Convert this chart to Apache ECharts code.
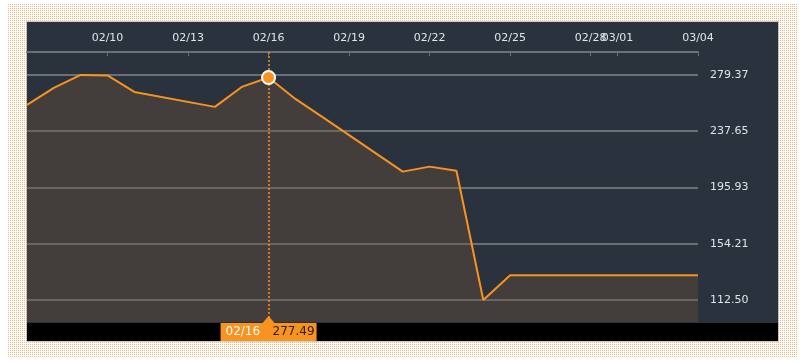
<!DOCTYPE html>
<html><head><meta charset="utf-8">
<script src="https://cdn.jsdelivr.net/npm/echarts@6/dist/echarts.min.js"></script>
<style>html,body{margin:0;padding:0;background:#fff}#c{width:800px;height:363px}</style>
</head><body><div id="c"></div>
<script>
const dates = ['2021-02-07','2021-02-08','2021-02-09','2021-02-10','2021-02-11','2021-02-14','2021-02-15','2021-02-16','2021-02-17','2021-02-18','2021-02-21','2021-02-22','2021-02-23','2021-02-24','2021-02-25','2021-03-01','2021-03-04'];
const prices = [257.2, 269.8, 279.37, 279.0, 266.8, 255.7, 270.5, 277.49, 261.6, 248.3, 207.7, 211.4, 208.4, 112.50, 130.8, 130.9, 130.9];
const xTickDates = ['2021-02-10','2021-02-13','2021-02-16','2021-02-19','2021-02-22','2021-02-25','2021-02-28','2021-03-01','2021-03-04'];
const yTicks = [112.50, 154.21, 195.93, 237.65, 279.37];
const xRange = ['2021-02-07','2021-03-04'];
const yRange = [96.2, 296.4];
const focusDate = '2021-02-16';
const focusValue = 277.49;

const t = s => { const [y,m,d] = s.split('-').map(Number); return Date.UTC(y, m-1, d); };
const pad = n => (n < 10 ? '0' : '') + n;
const fmtDate = v => { const d = new Date(v); return pad(d.getUTCMonth()+1) + '/' + pad(d.getUTCDate()); };

// dotted pattern
const pc = document.createElement('canvas'); pc.width = 2; pc.height = 2;
const pctx = pc.getContext('2d');
pctx.fillStyle = 'rgba(242,140,48,0.65)'; pctx.fillRect(0,0,1,1);

const chart = echarts.init(document.getElementById('c'), null, {renderer:'canvas'});
const FONT = 'DejaVu Sans';
const ORANGE = '#f7931e';

const bgGraphics = [
  { type:'rect', z:-30, silent:true, shape:{x:7,y:3,width:790,height:355}, style:{fill:{image:pc, repeat:'repeat'}} },
  { type:'rect', z:-20, silent:true, shape:{x:26,y:21,width:753,height:321}, style:{fill:'rgba(160,160,160,0.5)'} },
  { type:'rect', z:-10, silent:true, shape:{x:27,y:22,width:751,height:301}, style:{fill:'#29323d'} },
  { type:'rect', z:-10, silent:true, shape:{x:27,y:323,width:751,height:18}, style:{fill:'#000'} }
];

chart.setOption({
  animation: false,
  backgroundColor: '#fff',
  grid: { left: 27, right: 102, top: 52, bottom: 41 },
  graphic: bgGraphics,
  xAxis: {
    type: 'value', position: 'top',
    min: t(xRange[0]), max: t(xRange[1]),
    axisLine: { show: true, lineStyle: { color: '#6b7179', width: 2 } },
    axisTick: { show: true, inside: true, length: 4, lineStyle: { color: '#6b7179' }, customValues: xTickDates.map(t) },
    axisLabel: { color: '#dfe4ec', fontFamily: FONT, fontSize: 11, margin: 8, customValues: xTickDates.map(t), formatter: v => fmtDate(v), hideOverlap: false, showMinLabel: true, showMaxLabel: true },
    splitLine: { show: false }
  },
  yAxis: {
    type: 'value', position: 'right',
    min: yRange[0], max: yRange[1],
    axisLine: { show: false },
    axisTick: { show: false, customValues: yTicks },
    axisLabel: { color: '#dfe4ec', fontFamily: FONT, fontSize: 11, margin: 12, customValues: yTicks, formatter: v => v.toFixed(2) },
    splitLine: { show: true, lineStyle: { color: '#6a7078', width: 2 } }
  },
  series: [
    {
      type: 'line',
      data: dates.map((d,i) => [t(d), prices[i]]),
      symbol: 'none',
      lineStyle: { color: ORANGE, width: 2 },
      areaStyle: { color: 'rgba(110,84,58,0.55)' },
      z: 2
    },
    {
      type: 'scatter',
      data: [[t(focusDate), focusValue]],
      symbolSize: 13,
      itemStyle: { color: ORANGE, borderColor: '#fff', borderWidth: 2, opacity: 1 },
      z: 5,
      markLine: {
        silent: true, symbol: 'none',
        label: { show: false },
        lineStyle: { color: ORANGE, type: [2, 2], width: 1.5 },
        data: [{ xAxis: t(focusDate) }]
      }
    }
  ]
});

const fx = chart.convertToPixel({ xAxisIndex: 0 }, t(focusDate));
const boxL = fx - 48, boxW = 96, boxTop = 323, boxH = 18;
chart.setOption({
  graphic: bgGraphics.concat([
    { type:'rect', z:20, shape:{x:boxL, y:boxTop, width:boxW, height:boxH}, style:{fill:ORANGE} },
    { type:'polygon', z:20, shape:{points:[[fx-6,boxTop],[fx,boxTop-7],[fx+6,boxTop]]}, style:{fill:ORANGE} },
    { type:'text', z:21, x: boxL+5, y: boxTop+boxH/2, style:{text: fmtDate(t(focusDate)), fill:'#fff', font:'12px "DejaVu Sans"', verticalAlign:'middle'} },
    { type:'text', z:21, x: boxL+52, y: boxTop+boxH/2, style:{text: focusValue.toFixed(2), fill:'#2b2116', font:'12px "DejaVu Sans"', verticalAlign:'middle'} }
  ])
}, { replaceMerge: ['graphic'] });
</script></body></html>
